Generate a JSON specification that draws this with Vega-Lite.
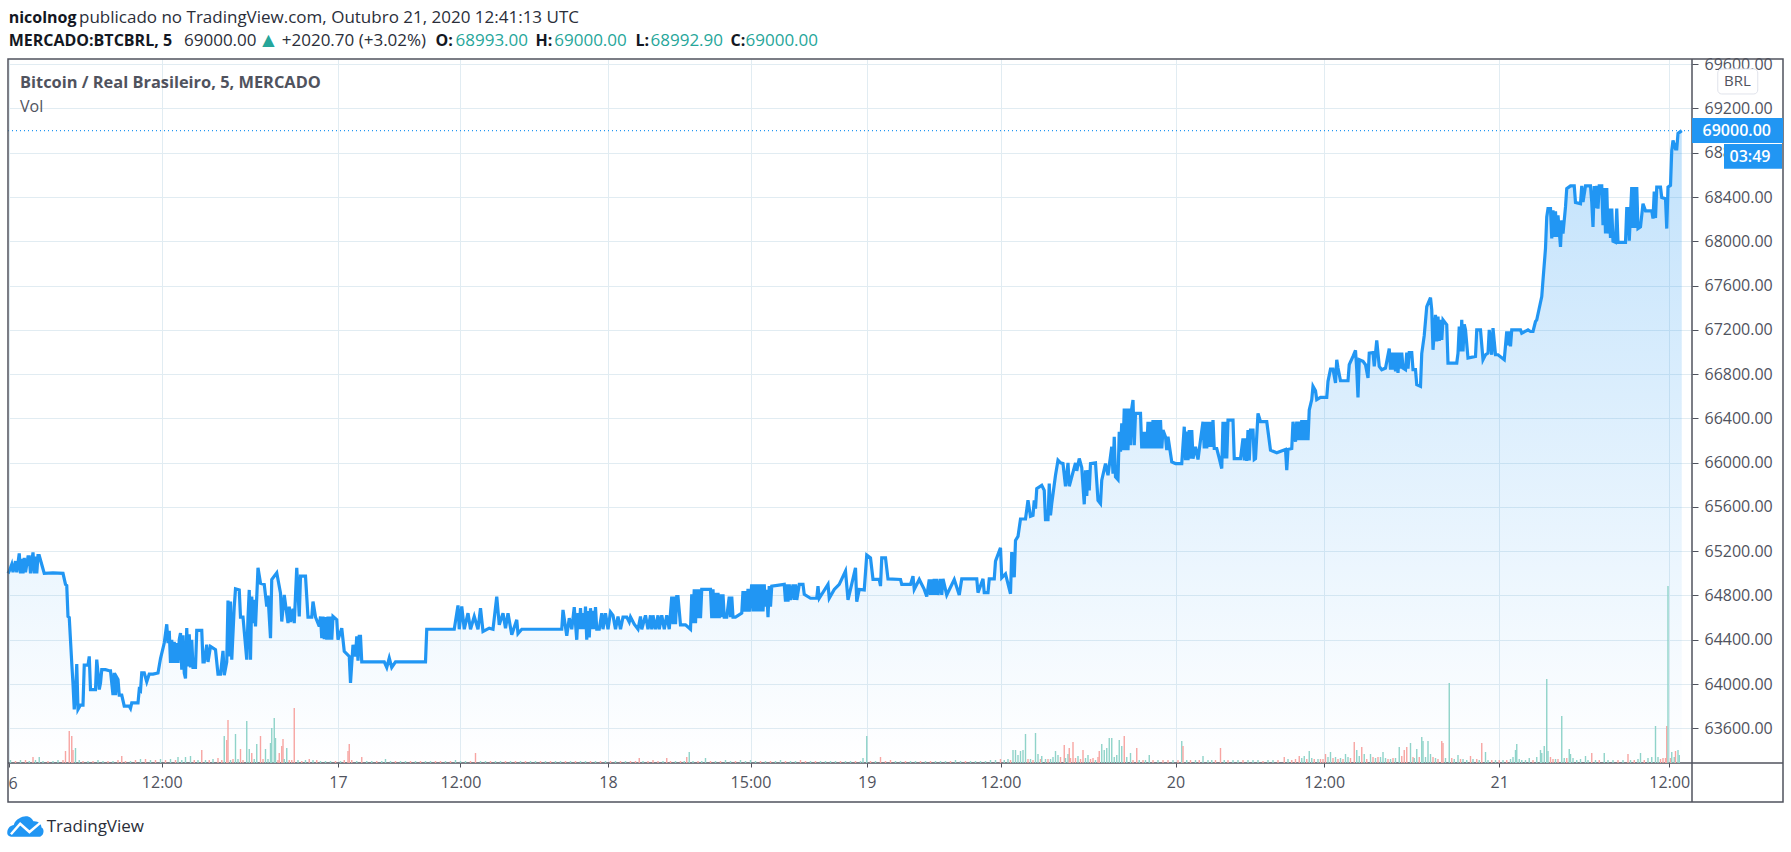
{
"$schema":"https://vega.github.io/schema/vega-lite/v6.json",
"description":"BTCBRL 5 minute chart",
"width":1684,"height":704,
"autosize":{"type":"none"},
"padding":{"left":8,"top":59,"right":99,"bottom":89},
"background":"#ffffff",
"config":{"view":{"stroke":null},"text":{"font":"Open Sans","fontSize":17,"baseline":"middle","align":"left","color":"#2a2e39"}},
"datasets":{
"prices":[
{"bar":0,"price":65000},{"bar":1,"price":65020},{"bar":3,"price":65080},{"bar":4,"price":65010},{"bar":6,"price":65110},{"bar":7,"price":65010},{"bar":9,"price":65180},{"bar":10,"price":65000},{"bar":11,"price":65130},{"bar":12,"price":65000},{"bar":13,"price":65140},{"bar":14,"price":65010},{"bar":16,"price":65150},{"bar":17,"price":65150},{"bar":18,"price":65000},{"bar":20,"price":65190},{"bar":21,"price":65000},{"bar":22,"price":65150},{"bar":23,"price":65000},{"bar":24,"price":65160},{"bar":25,"price":65160},{"bar":27,"price":65080},{"bar":29,"price":65000},{"bar":36,"price":65005},{"bar":44,"price":65000},
{"bar":46,"price":64900},{"bar":47,"price":64890},{"bar":48,"price":64610},{"bar":49,"price":64600},{"bar":51,"price":64190},{"bar":52,"price":64000},{"bar":53,"price":63770},{"bar":54,"price":63900},{"bar":55,"price":64180},{"bar":56,"price":63770},{"bar":58,"price":63810},{"bar":60,"price":63810},{"bar":61,"price":64170},{"bar":64,"price":64170},{"bar":65,"price":64250},{"bar":66,"price":63950},{"bar":68,"price":63950},{"bar":70,"price":63950},{"bar":71,"price":64220},{"bar":72,"price":64100},{"bar":73,"price":63950},{"bar":74,"price":64010},{"bar":75,"price":64130},{"bar":78,"price":64130},{"bar":81,"price":64120},{"bar":82,"price":64120},{"bar":84,"price":63900},{"bar":85,"price":64100},{"bar":86,"price":63900},{"bar":87,"price":64060},{"bar":88,"price":64040},{"bar":89,"price":63900},{"bar":91,"price":63900},{"bar":93,"price":63800},{"bar":97,"price":63800},{"bar":98,"price":63780},{"bar":99,"price":63830},{"bar":104,"price":63830},{"bar":105,"price":63950},{"bar":106,"price":63940},{"bar":107,"price":64100},{"bar":109,"price":64100},{"bar":111,"price":64020},{"bar":113,"price":64090},{"bar":116,"price":64090},{"bar":120,"price":64100},{"bar":122,"price":64230},{"bar":125,"price":64370},{"bar":127,"price":64540},{"bar":128,"price":64370},{"bar":129,"price":64480},{"bar":130,"price":64190},
{"bar":131,"price":64400},{"bar":132,"price":64190},{"bar":133,"price":64380},{"bar":134,"price":64190},{"bar":135,"price":64370},{"bar":136,"price":64190},{"bar":137,"price":64400},{"bar":138,"price":64460},{"bar":139,"price":64130},{"bar":140,"price":64440},{"bar":141,"price":64100},{"bar":142,"price":64050},{"bar":143,"price":64505},{"bar":144,"price":64160},{"bar":145,"price":64450},{"bar":146,"price":64150},{"bar":147,"price":64400},{"bar":148,"price":64150},{"bar":150,"price":64150},{"bar":151,"price":64485},{"bar":155,"price":64485},{"bar":156,"price":64200},{"bar":157,"price":64200},{"bar":159,"price":64355},{"bar":160,"price":64200},{"bar":162,"price":64340},{"bar":166,"price":64310},{"bar":168,"price":64090},{"bar":170,"price":64090},{"bar":172,"price":64300},{"bar":173,"price":64080},{"bar":175,"price":64200},{"bar":176,"price":64755},{"bar":177,"price":64250},{"bar":178,"price":64745},{"bar":179,"price":64220},{"bar":181,"price":64700},{"bar":182,"price":64860},{"bar":185,"price":64850},{"bar":186,"price":64605},{"bar":188,"price":64605},{"bar":191,"price":64220},{"bar":192,"price":64600},{"bar":193,"price":64850},{"bar":194,"price":64220},{"bar":195,"price":64790},{"bar":196,"price":64550},{"bar":197,"price":64760},{"bar":198,"price":64520},{"bar":200,"price":65050},{"bar":202,"price":64910},{"bar":205,"price":64900},{"bar":207,"price":64700},{"bar":208,"price":64800},{"bar":210,"price":64415},{"bar":211,"price":64945},{"bar":215,"price":65005},{"bar":218,"price":64820},{"bar":219,"price":64565},{"bar":221,"price":64805},{"bar":224,"price":64550},{"bar":225,"price":64700},{"bar":226,"price":64560},{"bar":228,"price":64680},{"bar":229,"price":64550},{"bar":231,"price":65050},{"bar":233,"price":64610},{"bar":234,"price":64975},{"bar":238,"price":64975},{"bar":240,"price":64605},{"bar":243,"price":64605},{"bar":244,"price":64745},{"bar":246,"price":64605},{"bar":249,"price":64520},{"bar":250,"price":64610},{"bar":251,"price":64415},{"bar":252,"price":64610},{"bar":253,"price":64405},{"bar":254,"price":64605},{"bar":255,"price":64400},{"bar":256,"price":64610},{"bar":257,"price":64400},{"bar":258,"price":64610},{"bar":259,"price":64400},{"bar":260,"price":64610},{"bar":263,"price":64580},{"bar":264,"price":64400},{"bar":267,"price":64505},{"bar":269,"price":64295},{"bar":273,"price":64250},{"bar":274,"price":64010},{"bar":276,"price":64355},{"bar":278,"price":64250},{"bar":279,"price":64430},{"bar":280,"price":64210},{"bar":281,"price":64430},{"bar":282,"price":64430},{"bar":283,"price":64200},{"bar":301,"price":64200},{"bar":303,"price":64150},{"bar":305,"price":64235},{"bar":307,"price":64150},{"bar":310,"price":64200},{"bar":334,"price":64200},{"bar":335,"price":64495},{"bar":357,"price":64495},
{"bar":360,"price":64710},{"bar":361,"price":64495},{"bar":363,"price":64700},{"bar":365,"price":64495},{"bar":368,"price":64640},{"bar":370,"price":64495},{"bar":373,"price":64610},{"bar":376,"price":64495},{"bar":378,"price":64685},{"bar":380,"price":64475},{"bar":385,"price":64505},{"bar":388,"price":64495},{"bar":391,"price":64790},{"bar":393,"price":64535},{"bar":396,"price":64640},{"bar":398,"price":64505},{"bar":400,"price":64640},{"bar":403,"price":64445},{"bar":407,"price":64580},{"bar":408,"price":64455},{"bar":411,"price":64495},{"bar":443,"price":64495},{"bar":444,"price":64670},{"bar":447,"price":64435},{"bar":449,"price":64595},{"bar":451,"price":64495},{"bar":453,"price":64695},{"bar":455,"price":64400},{"bar":456,"price":64640},{"bar":457,"price":64495},{"bar":458,"price":64685},{"bar":459,"price":64495},{"bar":460,"price":64640},{"bar":461,"price":64495},{"bar":462,"price":64700},{"bar":463,"price":64400},{"bar":464,"price":64660},{"bar":465,"price":64420},{"bar":466,"price":64685},{"bar":467,"price":64495},{"bar":468,"price":64660},{"bar":469,"price":64495},{"bar":470,"price":64695},{"bar":471,"price":64495},{"bar":473,"price":64495},
{"bar":475,"price":64640},{"bar":476,"price":64495},{"bar":478,"price":64640},{"bar":480,"price":64495},{"bar":482,"price":64650},{"bar":484,"price":64620},{"bar":486,"price":64495},{"bar":488,"price":64610},{"bar":490,"price":64495},{"bar":492,"price":64605},{"bar":495,"price":64605},{"bar":497,"price":64560},{"bar":498,"price":64605},{"bar":501,"price":64540},{"bar":504,"price":64495},{"bar":506,"price":64610},{"bar":507,"price":64495},{"bar":510,"price":64620},{"bar":512,"price":64495},{"bar":514,"price":64620},{"bar":515,"price":64495},{"bar":516,"price":64620},{"bar":518,"price":64495},{"bar":520,"price":64620},{"bar":521,"price":64495},{"bar":523,"price":64620},{"bar":525,"price":64495},{"bar":527,"price":64620},{"bar":529,"price":64495},{"bar":531,"price":64790},{"bar":532,"price":64540},{"bar":533,"price":64790},{"bar":534,"price":64540},{"bar":535,"price":64790},{"bar":536,"price":64790},{"bar":538,"price":64535},{"bar":542,"price":64535},{"bar":546,"price":64495},{"bar":547,"price":64810},{"bar":548,"price":64550},{"bar":549,"price":64855},{"bar":550,"price":64550},{"bar":551,"price":64855},{"bar":552,"price":64595},{"bar":553,"price":64855},{"bar":554,"price":64595},{"bar":555,"price":64855},{"bar":562,"price":64855},{"bar":563,"price":64595},{"bar":564,"price":64855},{"bar":565,"price":64595},{"bar":566,"price":64825},{"bar":567,"price":64595},{"bar":568,"price":64825},{"bar":569,"price":64595},{"bar":570,"price":64810},{"bar":571,"price":64605},{"bar":572,"price":64810},{"bar":573,"price":64605},{"bar":575,"price":64605},{"bar":577,"price":64790},{"bar":578,"price":64605},{"bar":579,"price":64790},{"bar":580,"price":64605},{"bar":582,"price":64605},{"bar":587,"price":64640},{"bar":588,"price":64840},{"bar":589,"price":64655},{"bar":590,"price":64840},{"bar":591,"price":64655},{"bar":592,"price":64860},{"bar":593,"price":64655},{"bar":595,"price":64900},{"bar":596,"price":64655},{"bar":597,"price":64900},{"bar":598,"price":64655},{"bar":599,"price":64900},{"bar":600,"price":64655},{"bar":601,"price":64900},{"bar":602,"price":64655},{"bar":603,"price":64900},{"bar":604,"price":64655},{"bar":605,"price":64900},{"bar":606,"price":64700},{"bar":607,"price":64850},{"bar":608,"price":64605},{"bar":609,"price":64885},{"bar":610,"price":64700},{"bar":611,"price":64885},{"bar":621,"price":64900},{"bar":622,"price":64745},{"bar":623,"price":64900},{"bar":624,"price":64745},{"bar":625,"price":64900},{"bar":626,"price":64760},{"bar":628,"price":64900},{"bar":629,"price":64760},{"bar":630,"price":64900},{"bar":631,"price":64760},{"bar":633,"price":64900},{"bar":636,"price":64900},{"bar":637,"price":64810},{"bar":642,"price":64775},{"bar":647,"price":64775},{"bar":648,"price":64885},{"bar":649,"price":64775},{"bar":656,"price":64900},{"bar":657,"price":64775},{"bar":661,"price":64855},{"bar":665,"price":64900},{"bar":670,"price":65020},{"bar":672,"price":64760},{"bar":674,"price":64855},{"bar":678,"price":65050},{"bar":679,"price":64745},{"bar":681,"price":64855},{"bar":685,"price":64850},{"bar":687,"price":65165},{"bar":690,"price":65140},{"bar":692,"price":64945},{"bar":697,"price":64945},{"bar":698,"price":64885},{"bar":699,"price":65140},{"bar":702,"price":65140},{"bar":704,"price":64950},{"bar":714,"price":64945},{"bar":715,"price":64900},{"bar":722,"price":64900},{"bar":724,"price":64975},{"bar":725,"price":64855},{"bar":729,"price":64945},{"bar":733,"price":64855},{"bar":735,"price":64790},{"bar":737,"price":64945},{"bar":738,"price":64805},{"bar":739,"price":64945},{"bar":740,"price":64805},{"bar":741,"price":64950},{"bar":742,"price":64805},{"bar":743,"price":64950},{"bar":744,"price":64805},{"bar":746,"price":64950},{"bar":747,"price":64805},{"bar":748,"price":64950},{"bar":751,"price":64805},{"bar":757,"price":64945},{"bar":761,"price":64805},{"bar":763,"price":64950},{"bar":775,"price":64950},{"bar":776,"price":64825},{"bar":780,"price":64950},{"bar":781,"price":64825},{"bar":784,"price":64825},{"bar":785,"price":64950},{"bar":789,"price":64950},{"bar":790,"price":65110},{"bar":794,"price":65230},{"bar":795,"price":64960},{"bar":798,"price":64995},{"bar":800,"price":64905},{"bar":802,"price":64815},
{"bar":803,"price":65192},{"bar":805,"price":64965},{"bar":806,"price":65298},{"bar":808,"price":65334},{"bar":810,"price":65491},{"bar":814,"price":65491},{"bar":816,"price":65660},{"bar":818,"price":65515},{"bar":820,"price":65524},{"bar":821,"price":65660},{"bar":822,"price":65585},{"bar":823,"price":65766},{"bar":827,"price":65796},{"bar":829,"price":65750},{"bar":830,"price":65485},{"bar":832,"price":65485},{"bar":833,"price":65811},{"bar":834,"price":65524},{"bar":835,"price":65630},{"bar":838,"price":65887},{"bar":840,"price":66022},{"bar":842,"price":65998},{"bar":844,"price":65992},{"bar":846,"price":65787},{"bar":848,"price":65998},{"bar":849,"price":65787},{"bar":854,"price":65998},{"bar":855,"price":65926},{"bar":857,"price":66038},{"bar":859,"price":65956},{"bar":861,"price":65624},{"bar":862,"price":65932},{"bar":863,"price":65700},{"bar":864,"price":65932},{"bar":865,"price":65750},{"bar":866,"price":65992},{"bar":870,"price":65998},{"bar":872,"price":65660},{"bar":874,"price":65630},{"bar":875,"price":65841},{"bar":878,"price":65992},{"bar":880,"price":65887},{"bar":883,"price":66143},{"bar":884,"price":65900},{"bar":885,"price":66234},{"bar":886,"price":65872},{"bar":888,"price":65847},{"bar":889,"price":66279},{"bar":890,"price":66100},{"bar":891,"price":66355},{"bar":892,"price":66113},{"bar":893,"price":66490},{"bar":894,"price":66113},{"bar":895,"price":66490},{"bar":896,"price":66113},{"bar":897,"price":66490},{"bar":898,"price":66158},{"bar":899,"price":66490},{"bar":900,"price":66566},{"bar":901,"price":66158},{"bar":902,"price":66445},{"bar":906,"price":66445},{"bar":907,"price":66128},{"bar":908,"price":66279},{"bar":909,"price":66128},{"bar":910,"price":66279},{"bar":911,"price":66128},{"bar":912,"price":66370},{"bar":913,"price":66128},{"bar":914,"price":66370},{"bar":915,"price":66128},{"bar":916,"price":66385},{"bar":917,"price":66128},{"bar":918,"price":66385},{"bar":919,"price":66128},{"bar":920,"price":66385},{"bar":921,"price":66128},{"bar":922,"price":66385},{"bar":923,"price":66128},{"bar":924,"price":66294},{"bar":926,"price":66234},{"bar":927,"price":66113},{"bar":928,"price":66234},{"bar":931,"price":66007},{"bar":934,"price":65992},{"bar":939,"price":65992},{"bar":941,"price":66325},{"bar":942,"price":66022},{"bar":943,"price":66280},{"bar":944,"price":66022},{"bar":945,"price":66294},{"bar":946,"price":66037},{"bar":947,"price":66294},{"bar":948,"price":66037},{"bar":950,"price":66143},{"bar":952,"price":66029},{"bar":954,"price":66204},{"bar":956,"price":66370},{"bar":957,"price":66128},{"bar":958,"price":66370},{"bar":959,"price":66128},{"bar":960,"price":66370},{"bar":961,"price":66143},{"bar":962,"price":66370},{"bar":963,"price":66143},{"bar":964,"price":66385},{"bar":965,"price":66128},{"bar":967,"price":66128},{"bar":969,"price":66040},{"bar":971,"price":65947},{"bar":972,"price":66370},{"bar":973,"price":66037},{"bar":974,"price":66370},{"bar":975,"price":66037},{"bar":976,"price":66385},{"bar":980,"price":66385},{"bar":981,"price":66037},{"bar":986,"price":66037},{"bar":988,"price":66219},{"bar":989,"price":66020},{"bar":990,"price":66219},{"bar":991,"price":66016},{"bar":992,"price":66294},{"bar":993,"price":66020},{"bar":994,"price":66294},{"bar":996,"price":66294},{"bar":997,"price":66029},{"bar":998,"price":66037},{"bar":1000,"price":66445},{"bar":1002,"price":66370},{"bar":1007,"price":66370},{"bar":1010,"price":66113},{"bar":1015,"price":66089},{"bar":1022,"price":66119},{"bar":1023,"price":65932},{"bar":1024,"price":66119},{"bar":1027,"price":66128},{"bar":1028,"price":66370},{"bar":1030,"price":66189},{"bar":1031,"price":66370},{"bar":1032,"price":66204},{"bar":1033,"price":66370},{"bar":1034,"price":66204},{"bar":1035,"price":66385},{"bar":1036,"price":66204},{"bar":1037,"price":66385},{"bar":1038,"price":66204},{"bar":1039,"price":66385},{"bar":1040,"price":66204},{"bar":1041,"price":66475},
{"bar":1043,"price":66570},{"bar":1044,"price":66690},{"bar":1046,"price":66650},{"bar":1047,"price":66570},{"bar":1050,"price":66590},{"bar":1055,"price":66590},{"bar":1056,"price":66735},{"bar":1058,"price":66845},{"bar":1060,"price":66845},{"bar":1062,"price":66720},{"bar":1063,"price":66930},{"bar":1064,"price":66855},{"bar":1066,"price":66740},{"bar":1072,"price":66740},{"bar":1073,"price":66885},{"bar":1076,"price":66960},{"bar":1078,"price":67015},{"bar":1079,"price":66840},{"bar":1080,"price":66590},{"bar":1081,"price":66930},{"bar":1084,"price":66915},{"bar":1086,"price":66885},{"bar":1088,"price":66765},{"bar":1089,"price":66990},{"bar":1092,"price":66995},{"bar":1093,"price":66870},{"bar":1095,"price":67105},{"bar":1097,"price":66870},{"bar":1099,"price":66840},{"bar":1102,"price":66855},{"bar":1105,"price":67030},{"bar":1106,"price":66840},{"bar":1107,"price":66995},{"bar":1108,"price":66840},{"bar":1109,"price":66995},{"bar":1110,"price":66825},{"bar":1111,"price":66995},{"bar":1112,"price":66810},{"bar":1113,"price":66995},{"bar":1114,"price":66850},{"bar":1115,"price":66995},{"bar":1116,"price":66855},{"bar":1118,"price":66840},{"bar":1119,"price":66995},{"bar":1120,"price":66850},{"bar":1121,"price":66995},{"bar":1123,"price":66995},{"bar":1124,"price":66840},{"bar":1126,"price":66840},{"bar":1127,"price":66705},{"bar":1130,"price":66690},{"bar":1131,"price":66985},{"bar":1133,"price":67150},
{"bar":1135,"price":67410},{"bar":1138,"price":67490},{"bar":1139,"price":67380},{"bar":1140,"price":67020},{"bar":1142,"price":67335},{"bar":1143,"price":67095},{"bar":1144,"price":67320},{"bar":1145,"price":67100},{"bar":1146,"price":67290},{"bar":1147,"price":67110},{"bar":1148,"price":67290},{"bar":1151,"price":67245},{"bar":1152,"price":66900},{"bar":1159,"price":66900},{"bar":1160,"price":66990},{"bar":1161,"price":67230},{"bar":1162,"price":67005},{"bar":1163,"price":67290},{"bar":1164,"price":67005},{"bar":1165,"price":67250},{"bar":1166,"price":67200},{"bar":1168,"price":66945},{"bar":1174,"price":66960},{"bar":1175,"price":67200},{"bar":1178,"price":67200},{"bar":1180,"price":66930},{"bar":1182,"price":66975},{"bar":1184,"price":66990},{"bar":1185,"price":67200},{"bar":1187,"price":66975},{"bar":1188,"price":67215},{"bar":1190,"price":66975},{"bar":1192,"price":66975},{"bar":1197,"price":66930},{"bar":1199,"price":67185},{"bar":1200,"price":67060},{"bar":1201,"price":67185},{"bar":1202,"price":67050},{"bar":1203,"price":67200},{"bar":1210,"price":67200},{"bar":1211,"price":67170},{"bar":1216,"price":67200},{"bar":1218,"price":67185},{"bar":1220,"price":67185},{"bar":1222,"price":67275},{"bar":1223,"price":67290},{"bar":1227,"price":67500},{"bar":1228,"price":67650},{"bar":1230,"price":67935},{"bar":1231,"price":68220},{"bar":1232,"price":68295},{"bar":1234,"price":68295},{"bar":1235,"price":68025},{"bar":1236,"price":68280},{"bar":1237,"price":68040},{"bar":1238,"price":68270},{"bar":1239,"price":68040},{"bar":1240,"price":68235},{"bar":1242,"price":67950},{"bar":1243,"price":68190},{"bar":1244,"price":68070},{"bar":1246,"price":68310},{"bar":1247,"price":68475},{"bar":1250,"price":68500},{"bar":1253,"price":68500},{"bar":1254,"price":68350},{"bar":1258,"price":68340},{"bar":1259,"price":68500},{"bar":1260,"price":68355},{"bar":1262,"price":68500},{"bar":1266,"price":68500},{"bar":1267,"price":68355},{"bar":1268,"price":68130},{"bar":1269,"price":68500},{"bar":1270,"price":68300},{"bar":1271,"price":68500},{"bar":1272,"price":68295},{"bar":1273,"price":68500},{"bar":1275,"price":68500},{"bar":1276,"price":68145},{"bar":1277,"price":68480},{"bar":1278,"price":68070},{"bar":1279,"price":68480},{"bar":1280,"price":68070},{"bar":1281,"price":68295},{"bar":1282,"price":68030},{"bar":1283,"price":68295},{"bar":1284,"price":68000},{"bar":1286,"price":67990},{"bar":1287,"price":68295},{"bar":1288,"price":67990},{"bar":1294,"price":67990},{"bar":1295,"price":68295},{"bar":1296,"price":68295},{"bar":1297,"price":68005},{"bar":1299,"price":68490},{"bar":1300,"price":68120},{"bar":1301,"price":68490},{"bar":1302,"price":68120},{"bar":1303,"price":68490},{"bar":1304,"price":68115},{"bar":1306,"price":68130},{"bar":1308,"price":68340},{"bar":1310,"price":68275},{"bar":1315,"price":68275},{"bar":1316,"price":68205},{"bar":1317,"price":68450},{"bar":1318,"price":68210},{"bar":1319,"price":68490},{"bar":1322,"price":68490},{"bar":1323,"price":68395},{"bar":1326,"price":68385},{"bar":1327,"price":68115},{"bar":1328,"price":68490},{"bar":1330,"price":68505},{"bar":1331,"price":68820},{"bar":1332,"price":68910},{"bar":1334,"price":68835},{"bar":1335,"price":68835},{"bar":1336,"price":68975},{"bar":1339,"price":69000}
],
"volumes":[
{"bar":2,"vol":3,"dir":"u"},{"bar":6,"vol":2,"dir":"d"},{"bar":10,"vol":3,"dir":"u"},{"bar":14,"vol":3,"dir":"d"},{"bar":17,"vol":2,"dir":"u"},{"bar":20,"vol":6,"dir":"d"},{"bar":22,"vol":3,"dir":"u"},{"bar":25,"vol":6,"dir":"u"},{"bar":28,"vol":2,"dir":"u"},{"bar":32,"vol":2,"dir":"d"},{"bar":36,"vol":2,"dir":"u"},{"bar":40,"vol":3,"dir":"u"},{"bar":44,"vol":3,"dir":"d"},{"bar":46,"vol":12,"dir":"d"},{"bar":49,"vol":32,"dir":"d"},{"bar":51,"vol":27,"dir":"d"},{"bar":52,"vol":13,"dir":"d"},{"bar":54,"vol":15,"dir":"u"},{"bar":57,"vol":3,"dir":"u"},{"bar":60,"vol":2,"dir":"d"},{"bar":64,"vol":2,"dir":"u"},{"bar":68,"vol":2,"dir":"d"},{"bar":72,"vol":3,"dir":"u"},{"bar":76,"vol":2,"dir":"u"},{"bar":80,"vol":2,"dir":"d"},{"bar":84,"vol":2,"dir":"u"},{"bar":88,"vol":3,"dir":"d"},{"bar":91,"vol":7,"dir":"d"},{"bar":94,"vol":2,"dir":"d"},{"bar":98,"vol":2,"dir":"u"},{"bar":102,"vol":3,"dir":"d"},{"bar":106,"vol":4,"dir":"u"},{"bar":110,"vol":4,"dir":"d"},{"bar":114,"vol":3,"dir":"u"},{"bar":118,"vol":3,"dir":"d"},{"bar":122,"vol":4,"dir":"u"},{"bar":126,"vol":3,"dir":"d"},{"bar":130,"vol":4,"dir":"u"},{"bar":134,"vol":3,"dir":"d"},{"bar":136,"vol":6,"dir":"u"},{"bar":139,"vol":3,"dir":"u"},{"bar":142,"vol":6,"dir":"u"},{"bar":146,"vol":7,"dir":"u"},{"bar":149,"vol":3,"dir":"d"},{"bar":152,"vol":3,"dir":"u"},{"bar":155,"vol":13,"dir":"d"},{"bar":158,"vol":3,"dir":"u"},{"bar":161,"vol":3,"dir":"d"},{"bar":164,"vol":4,"dir":"u"},{"bar":168,"vol":5,"dir":"d"},{"bar":171,"vol":3,"dir":"d"},{"bar":173,"vol":27,"dir":"u"},{"bar":175,"vol":23,"dir":"d"},{"bar":176,"vol":43,"dir":"d"},{"bar":178,"vol":3,"dir":"u"},{"bar":180,"vol":4,"dir":"d"},{"bar":182,"vol":29,"dir":"u"},{"bar":184,"vol":4,"dir":"u"},{"bar":186,"vol":14,"dir":"d"},{"bar":188,"vol":3,"dir":"d"},{"bar":191,"vol":42,"dir":"u"},{"bar":193,"vol":14,"dir":"u"},{"bar":195,"vol":10,"dir":"d"},{"bar":197,"vol":4,"dir":"u"},{"bar":199,"vol":19,"dir":"u"},{"bar":202,"vol":27,"dir":"d"},{"bar":204,"vol":4,"dir":"d"},{"bar":206,"vol":14,"dir":"u"},{"bar":208,"vol":4,"dir":"u"},{"bar":210,"vol":20,"dir":"u"},{"bar":211,"vol":35,"dir":"u"},{"bar":213,"vol":45,"dir":"u"},{"bar":214,"vol":25,"dir":"u"},{"bar":216,"vol":3,"dir":"d"},{"bar":217,"vol":10,"dir":"d"},{"bar":219,"vol":17,"dir":"d"},{"bar":220,"vol":24,"dir":"d"},{"bar":221,"vol":4,"dir":"u"},{"bar":223,"vol":15,"dir":"u"},{"bar":225,"vol":3,"dir":"d"},{"bar":227,"vol":3,"dir":"d"},{"bar":229,"vol":55,"dir":"d"},{"bar":232,"vol":3,"dir":"u"},{"bar":235,"vol":2,"dir":"d"},{"bar":238,"vol":3,"dir":"u"},{"bar":241,"vol":4,"dir":"d"},{"bar":244,"vol":3,"dir":"u"},{"bar":247,"vol":3,"dir":"d"},{"bar":250,"vol":2,"dir":"u"},{"bar":254,"vol":2,"dir":"u"},{"bar":258,"vol":2,"dir":"u"},{"bar":262,"vol":2,"dir":"d"},{"bar":266,"vol":2,"dir":"u"},{"bar":269,"vol":3,"dir":"d"},{"bar":272,"vol":12,"dir":"d"},{"bar":273,"vol":19,"dir":"d"},{"bar":275,"vol":3,"dir":"d"},{"bar":279,"vol":2,"dir":"u"},{"bar":283,"vol":6,"dir":"d"},{"bar":287,"vol":2,"dir":"u"},{"bar":291,"vol":2,"dir":"u"},{"bar":295,"vol":2,"dir":"d"},{"bar":299,"vol":2,"dir":"u"},{"bar":302,"vol":4,"dir":"u"},{"bar":306,"vol":2,"dir":"u"},{"bar":310,"vol":2,"dir":"d"},{"bar":314,"vol":2,"dir":"u"},{"bar":318,"vol":2,"dir":"u"},{"bar":322,"vol":2,"dir":"d"},{"bar":326,"vol":2,"dir":"u"},{"bar":330,"vol":2,"dir":"d"},{"bar":334,"vol":2,"dir":"u"},{"bar":338,"vol":2,"dir":"u"},{"bar":342,"vol":2,"dir":"d"},{"bar":346,"vol":2,"dir":"d"},{"bar":350,"vol":2,"dir":"u"},{"bar":354,"vol":2,"dir":"d"},{"bar":358,"vol":3,"dir":"u"},{"bar":362,"vol":2,"dir":"u"},{"bar":366,"vol":2,"dir":"u"},{"bar":370,"vol":2,"dir":"d"},{"bar":374,"vol":10,"dir":"d"},{"bar":378,"vol":2,"dir":"u"},{"bar":382,"vol":2,"dir":"u"},{"bar":386,"vol":2,"dir":"d"},{"bar":390,"vol":2,"dir":"u"},{"bar":394,"vol":2,"dir":"u"},{"bar":398,"vol":2,"dir":"d"},{"bar":402,"vol":2,"dir":"u"},{"bar":406,"vol":2,"dir":"d"},{"bar":410,"vol":2,"dir":"u"},{"bar":414,"vol":2,"dir":"d"},{"bar":418,"vol":2,"dir":"u"},{"bar":422,"vol":2,"dir":"u"},{"bar":426,"vol":2,"dir":"d"},{"bar":430,"vol":2,"dir":"u"},{"bar":434,"vol":2,"dir":"d"},{"bar":438,"vol":2,"dir":"u"},{"bar":442,"vol":2,"dir":"u"},{"bar":446,"vol":2,"dir":"d"},{"bar":450,"vol":2,"dir":"u"},{"bar":454,"vol":2,"dir":"d"},{"bar":458,"vol":2,"dir":"u"},{"bar":462,"vol":2,"dir":"u"},{"bar":466,"vol":2,"dir":"d"},{"bar":470,"vol":2,"dir":"u"},{"bar":474,"vol":2,"dir":"d"},{"bar":478,"vol":2,"dir":"u"},{"bar":482,"vol":2,"dir":"d"},{"bar":486,"vol":2,"dir":"u"},{"bar":490,"vol":2,"dir":"d"},{"bar":494,"vol":2,"dir":"u"},{"bar":498,"vol":2,"dir":"d"},{"bar":502,"vol":2,"dir":"d"},{"bar":505,"vol":5,"dir":"d"},{"bar":508,"vol":2,"dir":"u"},{"bar":512,"vol":2,"dir":"d"},{"bar":516,"vol":3,"dir":"d"},{"bar":520,"vol":2,"dir":"d"},{"bar":524,"vol":2,"dir":"u"},{"bar":527,"vol":5,"dir":"d"},{"bar":530,"vol":2,"dir":"d"},{"bar":534,"vol":2,"dir":"u"},{"bar":538,"vol":2,"dir":"d"},{"bar":541,"vol":2,"dir":"u"},{"bar":543,"vol":6,"dir":"d"},{"bar":545,"vol":11,"dir":"u"},{"bar":548,"vol":2,"dir":"u"},{"bar":552,"vol":2,"dir":"d"},{"bar":555,"vol":2,"dir":"u"},{"bar":558,"vol":5,"dir":"u"},{"bar":562,"vol":2,"dir":"d"},{"bar":566,"vol":2,"dir":"u"},{"bar":570,"vol":2,"dir":"d"},{"bar":574,"vol":3,"dir":"u"},{"bar":578,"vol":2,"dir":"u"},{"bar":582,"vol":2,"dir":"d"},{"bar":586,"vol":3,"dir":"u"},{"bar":590,"vol":2,"dir":"u"},{"bar":594,"vol":3,"dir":"u"},{"bar":598,"vol":2,"dir":"u"},{"bar":602,"vol":2,"dir":"d"},{"bar":606,"vol":2,"dir":"u"},{"bar":610,"vol":2,"dir":"d"},{"bar":614,"vol":2,"dir":"u"},{"bar":618,"vol":3,"dir":"u"},{"bar":622,"vol":2,"dir":"d"},{"bar":626,"vol":2,"dir":"u"},{"bar":630,"vol":2,"dir":"u"},{"bar":634,"vol":3,"dir":"d"},{"bar":638,"vol":2,"dir":"d"},{"bar":642,"vol":2,"dir":"u"},{"bar":646,"vol":2,"dir":"d"},{"bar":650,"vol":2,"dir":"u"},{"bar":654,"vol":2,"dir":"u"},{"bar":658,"vol":2,"dir":"u"},{"bar":662,"vol":2,"dir":"u"},{"bar":666,"vol":2,"dir":"d"},{"bar":670,"vol":2,"dir":"u"},{"bar":674,"vol":2,"dir":"u"},{"bar":678,"vol":2,"dir":"d"},{"bar":682,"vol":2,"dir":"u"},{"bar":684,"vol":5,"dir":"u"},{"bar":687,"vol":27,"dir":"u"},{"bar":690,"vol":2,"dir":"d"},{"bar":694,"vol":2,"dir":"u"},{"bar":698,"vol":6,"dir":"d"},{"bar":702,"vol":2,"dir":"d"},{"bar":706,"vol":3,"dir":"d"},{"bar":710,"vol":2,"dir":"u"},{"bar":714,"vol":2,"dir":"u"},{"bar":718,"vol":2,"dir":"d"},{"bar":722,"vol":2,"dir":"u"},{"bar":726,"vol":2,"dir":"u"},{"bar":730,"vol":2,"dir":"d"},{"bar":734,"vol":2,"dir":"u"},{"bar":738,"vol":2,"dir":"d"},{"bar":742,"vol":2,"dir":"u"},{"bar":746,"vol":2,"dir":"u"},{"bar":750,"vol":2,"dir":"u"},{"bar":754,"vol":2,"dir":"d"},{"bar":758,"vol":3,"dir":"u"},{"bar":762,"vol":2,"dir":"u"},{"bar":766,"vol":2,"dir":"d"},{"bar":770,"vol":2,"dir":"u"},{"bar":774,"vol":2,"dir":"u"},{"bar":778,"vol":2,"dir":"u"},{"bar":782,"vol":2,"dir":"u"},{"bar":786,"vol":3,"dir":"u"},{"bar":790,"vol":3,"dir":"u"},{"bar":794,"vol":4,"dir":"d"},{"bar":797,"vol":3,"dir":"u"},{"bar":800,"vol":4,"dir":"u"},{"bar":802,"vol":3,"dir":"d"},{"bar":804,"vol":13,"dir":"u"},{"bar":806,"vol":13,"dir":"u"},{"bar":808,"vol":8,"dir":"u"},{"bar":810,"vol":12,"dir":"u"},{"bar":812,"vol":13,"dir":"u"},{"bar":814,"vol":29,"dir":"u"},{"bar":816,"vol":4,"dir":"d"},{"bar":818,"vol":4,"dir":"u"},{"bar":820,"vol":3,"dir":"d"},{"bar":822,"vol":30,"dir":"u"},{"bar":824,"vol":9,"dir":"u"},{"bar":826,"vol":4,"dir":"d"},{"bar":827,"vol":7,"dir":"u"},{"bar":830,"vol":4,"dir":"u"},{"bar":832,"vol":4,"dir":"d"},{"bar":834,"vol":4,"dir":"u"},{"bar":836,"vol":6,"dir":"u"},{"bar":838,"vol":12,"dir":"u"},{"bar":840,"vol":8,"dir":"u"},{"bar":842,"vol":6,"dir":"d"},{"bar":845,"vol":18,"dir":"d"},{"bar":846,"vol":5,"dir":"u"},{"bar":848,"vol":9,"dir":"u"},{"bar":849,"vol":15,"dir":"d"},{"bar":850,"vol":5,"dir":"d"},{"bar":852,"vol":21,"dir":"d"},{"bar":854,"vol":5,"dir":"d"},{"bar":856,"vol":7,"dir":"u"},{"bar":858,"vol":4,"dir":"d"},{"bar":860,"vol":13,"dir":"d"},{"bar":862,"vol":5,"dir":"u"},{"bar":864,"vol":8,"dir":"u"},{"bar":866,"vol":4,"dir":"d"},{"bar":868,"vol":5,"dir":"d"},{"bar":870,"vol":3,"dir":"u"},{"bar":872,"vol":6,"dir":"d"},{"bar":873,"vol":12,"dir":"d"},{"bar":875,"vol":19,"dir":"u"},{"bar":877,"vol":13,"dir":"u"},{"bar":879,"vol":15,"dir":"u"},{"bar":881,"vol":25,"dir":"u"},{"bar":883,"vol":25,"dir":"u"},{"bar":885,"vol":6,"dir":"u"},{"bar":887,"vol":8,"dir":"u"},{"bar":889,"vol":23,"dir":"u"},{"bar":891,"vol":17,"dir":"u"},{"bar":893,"vol":27,"dir":"d"},{"bar":895,"vol":6,"dir":"u"},{"bar":898,"vol":10,"dir":"u"},{"bar":900,"vol":3,"dir":"d"},{"bar":903,"vol":15,"dir":"d"},{"bar":905,"vol":3,"dir":"u"},{"bar":908,"vol":3,"dir":"d"},{"bar":910,"vol":3,"dir":"u"},{"bar":913,"vol":8,"dir":"u"},{"bar":916,"vol":3,"dir":"d"},{"bar":920,"vol":3,"dir":"u"},{"bar":924,"vol":3,"dir":"d"},{"bar":928,"vol":3,"dir":"d"},{"bar":932,"vol":3,"dir":"u"},{"bar":936,"vol":3,"dir":"d"},{"bar":939,"vol":22,"dir":"u"},{"bar":940,"vol":17,"dir":"d"},{"bar":943,"vol":3,"dir":"u"},{"bar":946,"vol":3,"dir":"d"},{"bar":950,"vol":3,"dir":"u"},{"bar":953,"vol":3,"dir":"d"},{"bar":956,"vol":7,"dir":"u"},{"bar":960,"vol":3,"dir":"u"},{"bar":963,"vol":3,"dir":"u"},{"bar":966,"vol":3,"dir":"d"},{"bar":970,"vol":15,"dir":"d"},{"bar":973,"vol":3,"dir":"u"},{"bar":976,"vol":3,"dir":"d"},{"bar":980,"vol":3,"dir":"u"},{"bar":984,"vol":3,"dir":"u"},{"bar":988,"vol":3,"dir":"d"},{"bar":992,"vol":3,"dir":"u"},{"bar":996,"vol":3,"dir":"u"},{"bar":1000,"vol":3,"dir":"u"},{"bar":1004,"vol":2,"dir":"d"},{"bar":1008,"vol":3,"dir":"u"},{"bar":1012,"vol":3,"dir":"u"},{"bar":1016,"vol":3,"dir":"d"},{"bar":1021,"vol":6,"dir":"d"},{"bar":1024,"vol":4,"dir":"u"},{"bar":1027,"vol":3,"dir":"d"},{"bar":1030,"vol":4,"dir":"d"},{"bar":1033,"vol":7,"dir":"d"},{"bar":1035,"vol":5,"dir":"u"},{"bar":1037,"vol":7,"dir":"u"},{"bar":1039,"vol":4,"dir":"d"},{"bar":1041,"vol":12,"dir":"u"},{"bar":1043,"vol":5,"dir":"u"},{"bar":1045,"vol":4,"dir":"d"},{"bar":1048,"vol":4,"dir":"u"},{"bar":1050,"vol":4,"dir":"d"},{"bar":1052,"vol":4,"dir":"d"},{"bar":1054,"vol":9,"dir":"d"},{"bar":1056,"vol":6,"dir":"u"},{"bar":1058,"vol":11,"dir":"u"},{"bar":1060,"vol":5,"dir":"d"},{"bar":1062,"vol":6,"dir":"u"},{"bar":1064,"vol":4,"dir":"d"},{"bar":1066,"vol":5,"dir":"u"},{"bar":1068,"vol":4,"dir":"d"},{"bar":1070,"vol":9,"dir":"u"},{"bar":1072,"vol":6,"dir":"u"},{"bar":1074,"vol":5,"dir":"d"},{"bar":1077,"vol":21,"dir":"d"},{"bar":1079,"vol":13,"dir":"u"},{"bar":1081,"vol":7,"dir":"u"},{"bar":1083,"vol":16,"dir":"d"},{"bar":1085,"vol":9,"dir":"u"},{"bar":1087,"vol":4,"dir":"d"},{"bar":1090,"vol":9,"dir":"u"},{"bar":1092,"vol":6,"dir":"d"},{"bar":1094,"vol":5,"dir":"u"},{"bar":1096,"vol":6,"dir":"d"},{"bar":1098,"vol":6,"dir":"u"},{"bar":1100,"vol":11,"dir":"u"},{"bar":1102,"vol":5,"dir":"u"},{"bar":1104,"vol":4,"dir":"d"},{"bar":1106,"vol":4,"dir":"u"},{"bar":1108,"vol":5,"dir":"d"},{"bar":1110,"vol":5,"dir":"u"},{"bar":1113,"vol":16,"dir":"u"},{"bar":1115,"vol":7,"dir":"d"},{"bar":1117,"vol":13,"dir":"d"},{"bar":1119,"vol":16,"dir":"d"},{"bar":1122,"vol":20,"dir":"u"},{"bar":1124,"vol":6,"dir":"d"},{"bar":1125,"vol":5,"dir":"u"},{"bar":1127,"vol":14,"dir":"u"},{"bar":1129,"vol":6,"dir":"d"},{"bar":1131,"vol":26,"dir":"u"},{"bar":1132,"vol":22,"dir":"u"},{"bar":1134,"vol":6,"dir":"u"},{"bar":1136,"vol":22,"dir":"u"},{"bar":1138,"vol":9,"dir":"u"},{"bar":1140,"vol":6,"dir":"d"},{"bar":1142,"vol":5,"dir":"u"},{"bar":1144,"vol":4,"dir":"d"},{"bar":1147,"vol":22,"dir":"d"},{"bar":1148,"vol":20,"dir":"d"},{"bar":1150,"vol":5,"dir":"u"},{"bar":1153,"vol":80,"dir":"u"},{"bar":1155,"vol":5,"dir":"d"},{"bar":1157,"vol":4,"dir":"u"},{"bar":1160,"vol":8,"dir":"u"},{"bar":1162,"vol":4,"dir":"d"},{"bar":1164,"vol":4,"dir":"u"},{"bar":1167,"vol":3,"dir":"u"},{"bar":1170,"vol":7,"dir":"d"},{"bar":1172,"vol":4,"dir":"u"},{"bar":1175,"vol":4,"dir":"d"},{"bar":1177,"vol":3,"dir":"u"},{"bar":1179,"vol":20,"dir":"d"},{"bar":1182,"vol":11,"dir":"u"},{"bar":1184,"vol":3,"dir":"u"},{"bar":1187,"vol":3,"dir":"d"},{"bar":1190,"vol":3,"dir":"u"},{"bar":1193,"vol":3,"dir":"d"},{"bar":1196,"vol":3,"dir":"u"},{"bar":1199,"vol":3,"dir":"d"},{"bar":1202,"vol":4,"dir":"u"},{"bar":1204,"vol":6,"dir":"u"},{"bar":1206,"vol":13,"dir":"u"},{"bar":1207,"vol":19,"dir":"u"},{"bar":1209,"vol":4,"dir":"u"},{"bar":1211,"vol":3,"dir":"u"},{"bar":1214,"vol":3,"dir":"u"},{"bar":1217,"vol":5,"dir":"u"},{"bar":1220,"vol":3,"dir":"d"},{"bar":1223,"vol":6,"dir":"u"},{"bar":1226,"vol":13,"dir":"u"},{"bar":1227,"vol":10,"dir":"u"},{"bar":1229,"vol":17,"dir":"u"},{"bar":1231,"vol":84,"dir":"u"},{"bar":1232,"vol":12,"dir":"u"},{"bar":1234,"vol":6,"dir":"d"},{"bar":1236,"vol":4,"dir":"d"},{"bar":1238,"vol":4,"dir":"u"},{"bar":1240,"vol":4,"dir":"d"},{"bar":1243,"vol":47,"dir":"u"},{"bar":1245,"vol":5,"dir":"u"},{"bar":1247,"vol":5,"dir":"d"},{"bar":1249,"vol":14,"dir":"u"},{"bar":1250,"vol":9,"dir":"u"},{"bar":1252,"vol":5,"dir":"u"},{"bar":1255,"vol":3,"dir":"u"},{"bar":1258,"vol":4,"dir":"u"},{"bar":1262,"vol":7,"dir":"u"},{"bar":1264,"vol":3,"dir":"u"},{"bar":1267,"vol":10,"dir":"d"},{"bar":1270,"vol":3,"dir":"u"},{"bar":1273,"vol":3,"dir":"d"},{"bar":1277,"vol":10,"dir":"u"},{"bar":1280,"vol":3,"dir":"u"},{"bar":1284,"vol":3,"dir":"u"},{"bar":1288,"vol":3,"dir":"d"},{"bar":1292,"vol":3,"dir":"u"},{"bar":1296,"vol":9,"dir":"d"},{"bar":1298,"vol":3,"dir":"u"},{"bar":1301,"vol":3,"dir":"d"},{"bar":1304,"vol":4,"dir":"u"},{"bar":1306,"vol":10,"dir":"u"},{"bar":1309,"vol":3,"dir":"d"},{"bar":1312,"vol":5,"dir":"u"},{"bar":1315,"vol":6,"dir":"u"},{"bar":1318,"vol":37,"dir":"u"},{"bar":1320,"vol":6,"dir":"u"},{"bar":1322,"vol":4,"dir":"d"},{"bar":1324,"vol":5,"dir":"d"},{"bar":1326,"vol":5,"dir":"d"},{"bar":1327,"vol":37,"dir":"d"},{"bar":1328,"vol":177,"dir":"u"},{"bar":1330,"vol":5,"dir":"d"},{"bar":1331,"vol":11,"dir":"u"},{"bar":1333,"vol":6,"dir":"u"},{"bar":1334,"vol":12,"dir":"d"},{"bar":1336,"vol":13,"dir":"u"},{"bar":1337,"vol":8,"dir":"u"}
]
},
"encoding":{
"x":{"type":"quantitative","scale":{"domain":[0,1347.2],"nice":false,"zero":false,"padding":0},"axis":{"title":null,"orient":"bottom","values":[1,123,264,362,480,594,687,794,934,1053,1193,1329],"labelExpr":"({'1':'','123':'12:00','264':'17','362':'12:00','480':'18','594':'15:00','687':'19','794':'12:00','934':'20','1053':'12:00','1193':'21','1329':'12:00'})[datum.value]","labelFont":"Open Sans","labelFontSize":16,"labelColor":"#50535e","labelOverlap":false,"labelFlush":false,"labelBound":false,"labelPadding":7,"tickColor":"#50535e","tickSize":4,"domain":false,"grid":true,"gridColor":"#e1ecf2","gridWidth":1}}
},
"layer":[
{
"encoding":{
"y":{"type":"quantitative","scale":{"domain":[63286.5,69647],"nice":false,"zero":false},"axis":{"title":null,"orient":"right","values":[63600,64000,64400,64800,65200,65600,66000,66400,66800,67200,67600,68000,68400,68800,69200,69600],"format":".2f","labelFont":"Open Sans","labelFontSize":16,"labelColor":"#50535e","labelPadding":6,"tickColor":"#50535e","tickSize":6,"domain":false,"grid":true,"gridColor":"#e1ecf2","gridWidth":1}}
},
"layer":[
{"data":{"name":"prices"},"mark":{"type":"area","fill":{"gradient":"linear","x1":0,"y1":0,"x2":0,"y2":1,"stops":[{"offset":0,"color":"rgba(33,150,243,0.28)"},{"offset":1,"color":"rgba(33,150,243,0)"}]}},"encoding":{"x":{"field":"bar"},"y":{"field":"price"},"y2":{"datum":63286.5}}},
{"data":{"name":"prices"},"mark":{"type":"line","color":"#2196f3","strokeWidth":3.2},"encoding":{"x":{"field":"bar"},"y":{"field":"price"}}},
{"data":{"values":[{}]},"mark":{"type":"rule","color":"#2196f3","strokeDash":[1,3],"strokeWidth":1.2},"encoding":{"x":{"datum":0},"x2":{"datum":1347},"y":{"datum":69000}}},
{"data":{"values":[{}]},"mark":{"type":"rect","fill":null,"stroke":"#50535e","strokeWidth":1.5},"encoding":{"x":{"datum":0},"x2":{"datum":1420},"y":{"datum":69647},"y2":{"datum":62934}}},
{"data":{"values":[{}]},"mark":{"type":"rule","color":"#50535e","strokeWidth":1.5},"encoding":{"x":{"datum":0},"x2":{"datum":1420},"y":{"datum":63286.5}}},
{"data":{"values":[{}]},"mark":{"type":"rule","color":"#50535e","strokeWidth":1.5},"encoding":{"x":{"datum":1347.2},"y":{"datum":69647},"y2":{"datum":62934}}},
{"data":{"values":[{}]},"mark":{"type":"rect","fill":"#2196f3"},"encoding":{"x":{"datum":1347.2},"x2":{"datum":1420},"y":{"datum":69114},"y2":{"datum":68888}}},
{"data":{"values":[{}]},"mark":{"type":"rect","fill":"#2196f3"},"encoding":{"x":{"datum":1372.8},"x2":{"datum":1419.2},"y":{"datum":68879},"y2":{"datum":68656}}},
{"data":{"values":[{}]},"mark":{"type":"rect","fill":"#ffffff","stroke":"#e0e3eb","cornerRadius":4},"encoding":{"x":{"datum":1367.8},"x2":{"datum":1399.8},"y":{"datum":69557},"y2":{"datum":69331}}},
{"data":{"values":[{}]},"mark":{"type":"text","align":"center","color":"#ffffff","fontSize":16,"fontWeight":600},"encoding":{"x":{"datum":1383},"y":{"datum":69000},"text":{"value":"69000.00"}}},
{"data":{"values":[{}]},"mark":{"type":"text","align":"center","color":"#ffffff","fontSize":16,"fontWeight":600},"encoding":{"x":{"datum":1393.6},"y":{"datum":68766},"text":{"value":"03:49"}}},
{"data":{"values":[{}]},"mark":{"type":"text","align":"center","color":"#50535e","fontSize":15},"encoding":{"x":{"datum":1383.6},"y":{"datum":69444},"text":{"value":"BRL"}}},
{"data":{"values":[{}]},"mark":{"type":"text","align":"center","color":"#50535e","fontSize":16},"encoding":{"x":{"datum":4},"y":{"datum":63097},"text":{"value":"6"}}},
{"data":{"values":[{}]},"mark":{"type":"text","fontWeight":"bold","color":"#131722","fontSize":16},"encoding":{"x":{"datum":0.5},"y":{"datum":70017},"text":{"value":"nicolnog"}}},
{"data":{"values":[{}]},"mark":{"type":"text"},"encoding":{"x":{"datum":56.8},"y":{"datum":70017},"text":{"value":"publicado no TradingView.com, Outubro 21, 2020 12:41:13 UTC"}}},
{"data":{"values":[{}]},"mark":{"type":"text","fontWeight":"bold","color":"#131722","fontSize":16},"encoding":{"x":{"datum":0.5},"y":{"datum":69813},"text":{"value":"MERCADO:BTCBRL, 5"}}},
{"data":{"values":[{}]},"mark":{"type":"text"},"encoding":{"x":{"datum":140.8},"y":{"datum":69813},"text":{"value":"69000.00"}}},
{"data":{"values":[{}]},"mark":{"type":"text","color":"#26a69a","fontSize":21},"encoding":{"x":{"datum":200},"y":{"datum":69813},"text":{"value":"▲"}}},
{"data":{"values":[{}]},"mark":{"type":"text"},"encoding":{"x":{"datum":219},"y":{"datum":69813},"text":{"value":"+2020.70 (+3.02%)"}}},
{"data":{"values":[{}]},"mark":{"type":"text","fontWeight":"bold","color":"#131722","fontSize":16},"encoding":{"x":{"datum":342},"y":{"datum":69813},"text":{"value":"O:"}}},
{"data":{"values":[{}]},"mark":{"type":"text","color":"#26a69a"},"encoding":{"x":{"datum":358},"y":{"datum":69813},"text":{"value":"68993.00"}}},
{"data":{"values":[{}]},"mark":{"type":"text","fontWeight":"bold","color":"#131722","fontSize":16},"encoding":{"x":{"datum":422},"y":{"datum":69813},"text":{"value":"H:"}}},
{"data":{"values":[{}]},"mark":{"type":"text","color":"#26a69a"},"encoding":{"x":{"datum":437},"y":{"datum":69813},"text":{"value":"69000.00"}}},
{"data":{"values":[{}]},"mark":{"type":"text","fontWeight":"bold","color":"#131722","fontSize":16},"encoding":{"x":{"datum":502},"y":{"datum":69813},"text":{"value":"L:"}}},
{"data":{"values":[{}]},"mark":{"type":"text","color":"#26a69a"},"encoding":{"x":{"datum":514},"y":{"datum":69813},"text":{"value":"68992.90"}}},
{"data":{"values":[{}]},"mark":{"type":"text","fontWeight":"bold","color":"#131722","fontSize":16},"encoding":{"x":{"datum":578},"y":{"datum":69813},"text":{"value":"C:"}}},
{"data":{"values":[{}]},"mark":{"type":"text","color":"#26a69a"},"encoding":{"x":{"datum":590},"y":{"datum":69813},"text":{"value":"69000.00"}}},
{"data":{"values":[{}]},"mark":{"type":"text","fontWeight":"bold","color":"#50535e","fontSize":16.4},"encoding":{"x":{"datum":9.6},"y":{"datum":69430},"text":{"value":"Bitcoin / Real Brasileiro, 5, MERCADO"}}},
{"data":{"values":[{}]},"mark":{"type":"text","color":"#50535e","fontSize":16},"encoding":{"x":{"datum":9.6},"y":{"datum":69214},"text":{"value":"Vol"}}},
{"data":{"values":[{}]},"mark":{"type":"text","color":"#2a2e39"},"encoding":{"x":{"datum":31},"y":{"datum":62711},"text":{"value":"TradingView"}}},
{"data":{"values":[{}]},"mark":{"type":"point","filled":true,"opacity":1,"color":"#2196f3","size":1369,"shape":"M-1,0.35 C-1,0.05 -0.8,-0.05 -0.65,-0.08 C-0.55,-0.4 -0.2,-0.55 0,-0.55 C0.25,-0.55 0.35,-0.4 0.42,-0.28 C0.7,-0.3 0.85,-0.1 0.85,0.05 C1,0.1 1,0.4 0.85,0.5 C0.8,0.56 0.7,0.56 0.65,0.56 L-0.65,0.56 C-0.85,0.56 -1,0.5 -1,0.35 Z"},"encoding":{"x":{"datum":14.2},"y":{"datum":62713}}},
{"data":{"values":[{}]},"mark":{"type":"point","filled":false,"opacity":1,"color":"#ffffff","strokeWidth":2.5,"size":1369,"shape":"M-0.8,0.42 L-0.3,-0.15 L0.2,0.3 L0.85,-0.25"},"encoding":{"x":{"datum":14.2},"y":{"datum":62713}}}
]
},
{
"data":{"name":"volumes"},
"mark":{"type":"bar","size":1.4},
"encoding":{
"x":{"field":"bar"},
"y":{"field":"vol","type":"quantitative","scale":{"domain":[0,704],"nice":false},"axis":null},
"color":{"field":"dir","type":"nominal","legend":null,"scale":{"domain":["u","d"],"range":["#8fd3c9","#f7a5a2"]}}
}
}
],
"resolve":{"scale":{"y":"independent"}}
}
